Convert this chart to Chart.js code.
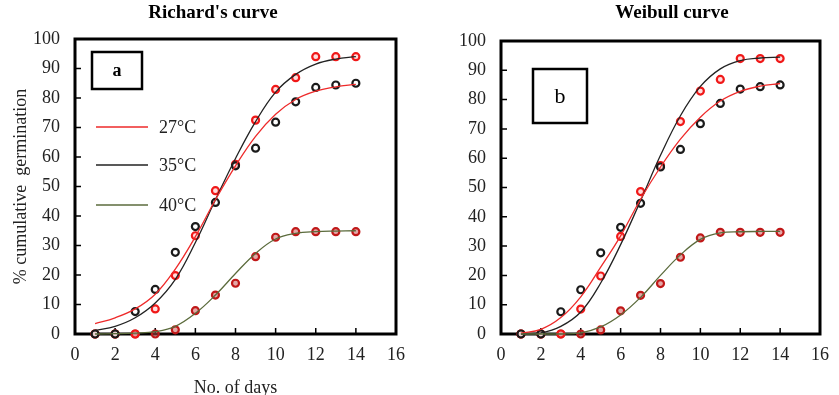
<!DOCTYPE html>
<html>
<head>
<meta charset="utf-8">
<script src="https://cdn.jsdelivr.net/npm/chart.js@4.4.0/dist/chart.umd.min.js"></script>
<style>
body { margin: 0; background: #fff; }
canvas { position: absolute; top: 0; }
</style>
</head>
<body>
<canvas id="chartA" width="420" height="395" style="left:0"></canvas>
<canvas id="chartB" width="419" height="395" style="left:420px"></canvas>
<script>
const days = [1, 2, 3, 4, 5, 6, 7, 8, 9, 10, 11, 12, 13, 14]

// observed germination (same in both panels)
const redPoints = [0, 0, 0, 8.5, 19.8, 33.3, 48.6, 57.5, 72.5, 82.9, 86.9, 94, 94, 94]
const blackPoints = [0, 0, 7.6, 15.1, 27.7, 36.4, 44.6, 57, 63, 71.8, 78.7, 83.6, 84.4, 85]
const points40 = [0, 0, 0, 0, 1.4, 7.9, 13.2, 17.2, 26.2, 32.8, 34.7, 34.7, 34.7, 34.7]

// fitted curves
const richardsRed = [3.5, 5.5, 8.5, 13.5, 22, 33, 45.5, 57, 67, 74.5, 79.5, 82.3, 83.8, 84.6]
const richardsBlack = [1.2, 2.6, 5.5, 10.5, 18.5, 31, 45.5, 59.5, 72, 82, 88, 91.5, 93.2, 94]
const richards40 = [0, 0.1, 0.3, 0.8, 2.6, 7, 13.2, 20.5, 27.3, 32.2, 34.1, 34.7, 34.9, 35]

const weibullRed = [0.3, 1.6, 5.6, 12.7, 22.8, 33.5, 46, 57, 66.5, 74, 79.5, 82.8, 84.6, 85.5]
const weibullBlack = [0, 0.4, 2.6, 7.5, 17.4, 30.5, 45.5, 61, 74.5, 84.5, 90.5, 93.3, 94.2, 94.5]
const weibull40 = [0, 0, 0, 0.4, 2.4, 6.5, 12.5, 20, 27, 32.3, 34.5, 34.9, 35, 35]

const legendLabels = ['27°C', '35°C', '40°C']
const lineColors = ['#ee2a2a', '#222222', '#5b6b3c']

const serif = "'Liberation Serif', 'Times New Roman', serif"

const xy = vals => days.map((d, i) => ({x: d, y: vals[i]}))

const curve = (vals, color) => ({
    data: xy(vals),
    borderColor: color,
    borderWidth: 1.3,
    pointRadius: 0,
    tension: 0.4,
    showLine: true,
    fill: false,
})

const marks = (vals, border, bg) => ({
    data: xy(vals),
    showLine: false,
    pointRadius: 3.5,
    borderWidth: 2.2,
    borderColor: border,
    backgroundColor: bg,
})

const frame = {
    id: 'frame',
    beforeDatasetsDraw(chart) {
        const {ctx, chartArea: a, scales: {x, y}} = chart
        ctx.save()
        ctx.strokeStyle = '#000'
        ctx.lineWidth = 1.5
        ctx.beginPath()
        for (let v = 10; v < 100; v += 10) {
            const py = y.getPixelForValue(v)
            ctx.moveTo(a.left, py)
            ctx.lineTo(a.left + 6, py)
        }
        for (let v = 2; v < 16; v += 2) {
            const px = x.getPixelForValue(v)
            ctx.moveTo(px, a.bottom)
            ctx.lineTo(px, a.bottom - 6)
        }
        ctx.stroke()
        ctx.lineWidth = 3
        ctx.strokeRect(a.left, a.top, a.right - a.left, a.bottom - a.top)
        ctx.restore()
    },
    afterDraw(chart, args, opts) {
        const {ctx} = chart
        ctx.save()
        ctx.fillStyle = '#000'
        ctx.textAlign = 'center'
        ctx.textBaseline = 'middle'
        ctx.font = 'bold 19px ' + serif
        ctx.fillText(opts.title, opts.titleX, 13)

        const b = opts.box
        ctx.lineWidth = 2.5
        ctx.strokeStyle = '#000'
        ctx.strokeRect(b.x, b.y, b.w, b.h)
        ctx.font = b.font
        ctx.fillText(b.text, b.x + b.w / 2, b.y + b.h / 2 + 1)

        if (opts.legend) {
            ctx.textAlign = 'left'
            ctx.font = '18px ' + serif
            legendLabels.forEach((lab, i) => {
                const ly = opts.legend.y[i]
                ctx.strokeStyle = lineColors[i]
                ctx.lineWidth = 1.3
                ctx.beginPath()
                ctx.moveTo(opts.legend.x, ly)
                ctx.lineTo(opts.legend.x + 52, ly)
                ctx.stroke()
                ctx.fillStyle = '#222'
                ctx.fillText(lab, opts.legend.x + 63, ly + 1)
            })
        }
        ctx.restore()
    }
}

function makeChart(id, curves, opts) {
    const showTitles = !!opts.legend
    new Chart(document.getElementById(id), {
        type: 'scatter',
        data: {
            datasets: [
                curve(curves[2], lineColors[2]),
                curve(curves[0], lineColors[0]),
                curve(curves[1], lineColors[1]),
                marks(blackPoints, '#1a1a1a', 'rgba(255,255,255,0.6)'),
                marks(redPoints, '#f01818', 'rgba(255,200,200,0.6)'),
                marks(points40, '#c01818', 'rgba(200,80,80,0.5)'),
            ]
        },
        options: {
            responsive: false,
            animation: false,
            clip: false,
            layout: {
                padding: {top: opts.top, right: opts.right, left: 0, bottom: 0}
            },
            plugins: {
                legend: {display: false},
                tooltip: {enabled: false},
                frame: opts,
            },
            scales: {
                x: {
                    type: 'linear',
                    min: 0,
                    max: 16,
                    afterFit: s => { s.height = 395 - opts.bottom },
                    grid: {display: false, drawTicks: false},
                    border: {display: false},
                    ticks: {stepSize: 2, padding: 10, color: '#222', font: {family: serif, size: 18}},
                    title: {
                        display: showTitles,
                        text: 'No. of days',
                        color: '#222',
                        font: {family: serif, size: 18},
                        padding: {bottom: -4},
                    },
                },
                y: {
                    min: 0,
                    max: 100,
                    afterFit: s => { s.width = opts.left },
                    grid: {display: false, drawTicks: false},
                    border: {display: false},
                    ticks: {stepSize: 10, padding: 15, color: '#222', font: {family: serif, size: 18}},
                    title: {
                        display: showTitles,
                        text: '% cumulative  germination',
                        color: '#222',
                        font: {family: serif, size: 18},
                        padding: {top: 10},
                    },
                },
            },
        },
        plugins: [frame],
    })
}

makeChart('chartA', [richardsRed, richardsBlack, richards40], {
    title: "Richard's curve",
    titleX: 213,
    top: 39, right: 420 - 396, left: 75, bottom: 334,
    box: {x: 92, y: 52, w: 50, h: 37, text: 'a', font: 'bold 18px ' + serif},
    legend: {x: 96, y: [127, 165, 205]},
})

makeChart('chartB', [weibullRed, weibullBlack, weibull40], {
    title: 'Weibull curve',
    titleX: 252,
    top: 41, right: 419 - 409, left: 81, bottom: 334,
    box: {x: 113, y: 69, w: 54, h: 54, text: 'b', font: '22px ' + serif},
})
</script>
</body>
</html>
